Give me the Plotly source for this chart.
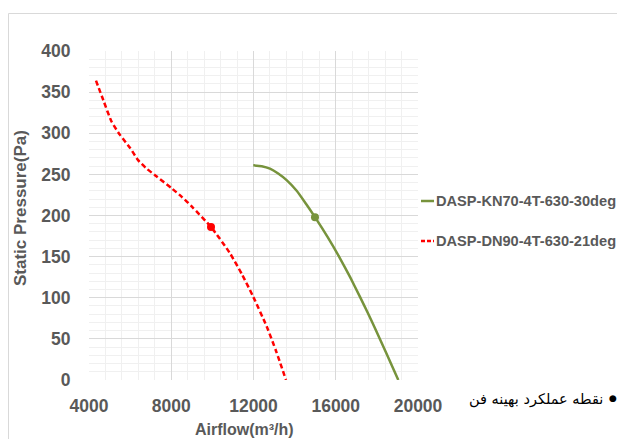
import plotly.graph_objects as go

# Data
red_x = [4340, 4700, 5100, 5508, 6000, 6398, 6800, 7210, 8021, 8500, 8993, 9933, 10857, 11450, 11990, 12642, 13100, 13580]
red_y = [364, 340, 314, 298, 282, 267, 257, 249, 233, 223, 211, 186, 154, 128, 101, 65, 35, 0]
green_x = [11990, 12400, 12800, 13200, 13610, 14100, 14585, 14990, 15600, 16206, 16700, 17179, 17550, 17909, 18450, 19042]
green_y = [261, 260, 257, 251, 243, 230, 213, 198, 174, 148, 125, 101, 82, 63, 33, 0]
opt_red = (9933, 186)
opt_green = (14990, 198)
series_names = ["DASP-KN70-4T-630-30deg", "DASP-DN90-4T-630-21deg"]
opt_label = "نقطه عملکرد بهینه فن"
x_ticks = [4000, 8000, 12000, 16000, 20000]

GREEN = "#77933C"
RED = "#FF0000"
GREY = "#595959"
FONT = "Liberation Sans"

fig = go.Figure()
fig.add_trace(go.Scatter(x=green_x, y=green_y, mode="lines",
                         line=dict(color=GREEN, width=2.5, shape="spline", smoothing=0.6),
                         name=series_names[0], showlegend=False))
fig.add_trace(go.Scatter(x=red_x, y=red_y, mode="lines",
                         line=dict(color=RED, width=2.5, dash="5px,3px", shape="spline", smoothing=0.6),
                         name=series_names[1], showlegend=False))
fig.add_trace(go.Scatter(x=[opt_green[0]], y=[opt_green[1]], mode="markers",
                         marker=dict(color=GREEN, size=8), showlegend=False))
fig.add_trace(go.Scatter(x=[opt_red[0]], y=[opt_red[1]], mode="markers",
                         marker=dict(color=RED, size=8), showlegend=False))

# page body adds an 8px offset, so all pixel targets are shifted by -8
OFF = 8
W, H = 625 - OFF, 439 - OFF
L, R, T, B = 89 - OFF, 418 - OFF, 51 - OFF, 380 - OFF

def px_x(p):
    return (p - OFF - L) / (R - L)

def px_y(p):
    return (B - (p - OFF)) / (B - T)

fig.update_xaxes(range=[4000, 20000], tickvals=x_ticks, tickformat="d", showgrid=True, gridcolor="#D9D9D9", gridwidth=1,
                 minor=dict(dtick=800, tick0=4000, showgrid=True, gridcolor="#F0F0F0", gridwidth=1),
                 zeroline=False, showline=False, ticks="outside", ticklen=10, tickcolor="rgba(0,0,0,0)",
                 tickfont=dict(family=FONT, size=17.5, color=GREY, weight="bold"))
fig.update_yaxes(range=[0, 400], dtick=50, showgrid=True, gridcolor="#D9D9D9", gridwidth=1,
                 minor=dict(dtick=10, showgrid=True, gridcolor="#F0F0F0", gridwidth=1),
                 zeroline=False, showline=False, ticks="outside", ticklen=14, tickcolor="rgba(0,0,0,0)",
                 tickfont=dict(family=FONT, size=17.5, color=GREY, weight="bold"))

shapes = [
    dict(type="rect", xref="paper", yref="paper", x0=px_x(8.5), x1=px_x(660), y0=px_y(480), y1=px_y(13.5),
         line=dict(color="#D9D9D9", width=1), fillcolor="rgba(0,0,0,0)", layer="below"),
    dict(type="line", xref="paper", yref="paper", x0=px_x(421), x1=px_x(434), y0=px_y(201), y1=px_y(201),
         line=dict(color=GREEN, width=2.5)),
    dict(type="line", xref="paper", yref="paper", x0=px_x(421), x1=px_x(434), y0=px_y(241), y1=px_y(241),
         line=dict(color=RED, width=2.5, dash="4px,2px")),
]

annotations = [
    dict(text=series_names[0], xref="paper", yref="paper", x=px_x(434), y=px_y(201), xanchor="left", yanchor="middle",
         showarrow=False, font=dict(family=FONT, size=14.6, color=GREY, weight="bold")),
    dict(text=series_names[1], xref="paper", yref="paper", x=px_x(434), y=px_y(241), xanchor="left", yanchor="middle",
         showarrow=False, font=dict(family=FONT, size=14.6, color=GREY, weight="bold")),
    dict(text=opt_label, xref="paper", yref="paper", x=px_x(605), y=px_y(399), xanchor="right", yanchor="middle",
         showarrow=False, font=dict(family="DejaVu Sans", size=14.5, color="#000000")),
    dict(text="●", xref="paper", yref="paper", x=px_x(613), y=px_y(398), xanchor="center", yanchor="middle",
         showarrow=False, font=dict(family="DejaVu Sans", size=9, color="#000000")),
    dict(text="Static Pressure(Pa)", xref="paper", yref="paper", x=px_x(20), y=px_y(208), xanchor="center",
         yanchor="middle", textangle=-90, showarrow=False, font=dict(family=FONT, size=17, color=GREY, weight="bold")),
    dict(text="Airflow(m³/h)", xref="paper", yref="paper", x=px_x(244), y=px_y(429), xanchor="center",
         yanchor="middle", showarrow=False, font=dict(family=FONT, size=16, color=GREY, weight="bold")),
]

fig.update_layout(width=W, height=H, margin=dict(l=L, r=W - R, t=T, b=H - B),
                  plot_bgcolor="white", paper_bgcolor="white", showlegend=False,
                  shapes=shapes, annotations=annotations)

fig.write_html("out.html")
